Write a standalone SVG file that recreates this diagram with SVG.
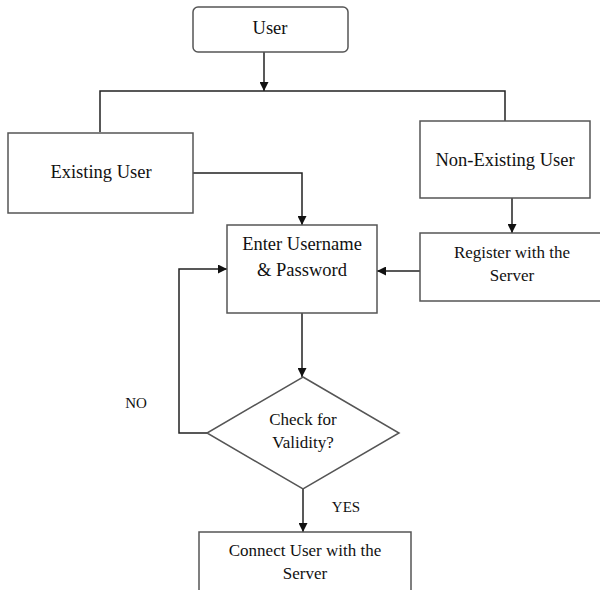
<svg xmlns="http://www.w3.org/2000/svg" width="600" height="590" viewBox="0 0 600 590">
<defs>
<marker id="ah" viewBox="0 0 10 10" refX="10" refY="5" markerWidth="9" markerHeight="9" markerUnits="userSpaceOnUse" orient="auto">
<path d="M0,0 L10,5 L0,10 Z" fill="#111"/>
</marker>
<style>
.box{fill:#fff;stroke:#555;stroke-width:1.5}
.ln{fill:none;stroke:#222;stroke-width:1.5}
text{font-family:'Liberation Serif','Times New Roman','DejaVu Serif',serif;fill:#111;text-anchor:middle}
.lg{font-size:18.5px}
.md{font-size:17px}
.sm{font-size:15px}
</style>
</defs>
<rect width="600" height="590" fill="#fff"/>
<g id="connectors">
<path class="ln" d="M264,52 V91" marker-end="url(#ah)"/>
<path class="ln" d="M100,132 V91 H505 V121"/>
<path class="ln" d="M193,173 H302 V225" marker-end="url(#ah)"/>
<path class="ln" d="M512,198 V233" marker-end="url(#ah)"/>
<path class="ln" d="M420,271 H377" marker-end="url(#ah)"/>
<path class="ln" d="M302,313 V377" marker-end="url(#ah)"/>
<path class="ln" d="M207,433 H179 V269 H227" marker-end="url(#ah)"/>
<path class="ln" d="M303,489 V532" marker-end="url(#ah)"/>
</g>
<g id="user">
<rect class="box" x="193" y="7" width="155" height="45" rx="5"/>
<text class="lg" x="270" y="34" font-family="Liberation Serif, serif">User</text>
</g>
<g id="existing">
<rect class="box" x="8" y="133" width="185" height="80"/>
<text class="lg" x="101" y="178">Existing User</text>
</g>
<g id="nonexisting">
<rect class="box" x="420" y="121" width="170" height="77"/>
<text class="lg" x="505" y="166">Non-Existing User</text>
</g>
<g id="enter">
<rect class="box" x="227" y="225" width="150" height="88"/>
<text class="lg" x="302" y="250">Enter Username</text>
<text class="lg" x="302" y="276">&amp; Password</text>
</g>
<g id="register">
<rect class="box" x="420" y="233" width="190" height="68"/>
<text class="md" x="512" y="257.5">Register with the</text>
<text class="md" x="512" y="280.5">Server</text>
</g>
<g id="check">
<polygon class="box" points="303,377 399,433 303,489 207,433"/>
<text class="md" x="303" y="424.5">Check for</text>
<text class="md" x="303" y="447.5">Validity?</text>
</g>
<g id="connect">
<rect class="box" x="199" y="532" width="212" height="70"/>
<text class="md" x="305" y="555.5">Connect User with the</text>
<text class="md" x="305" y="578.5">Server</text>
</g>
<g id="labels">
<text class="sm" x="136" y="408">NO</text>
<text class="sm" x="346" y="512">YES</text>
</g>
</svg>
